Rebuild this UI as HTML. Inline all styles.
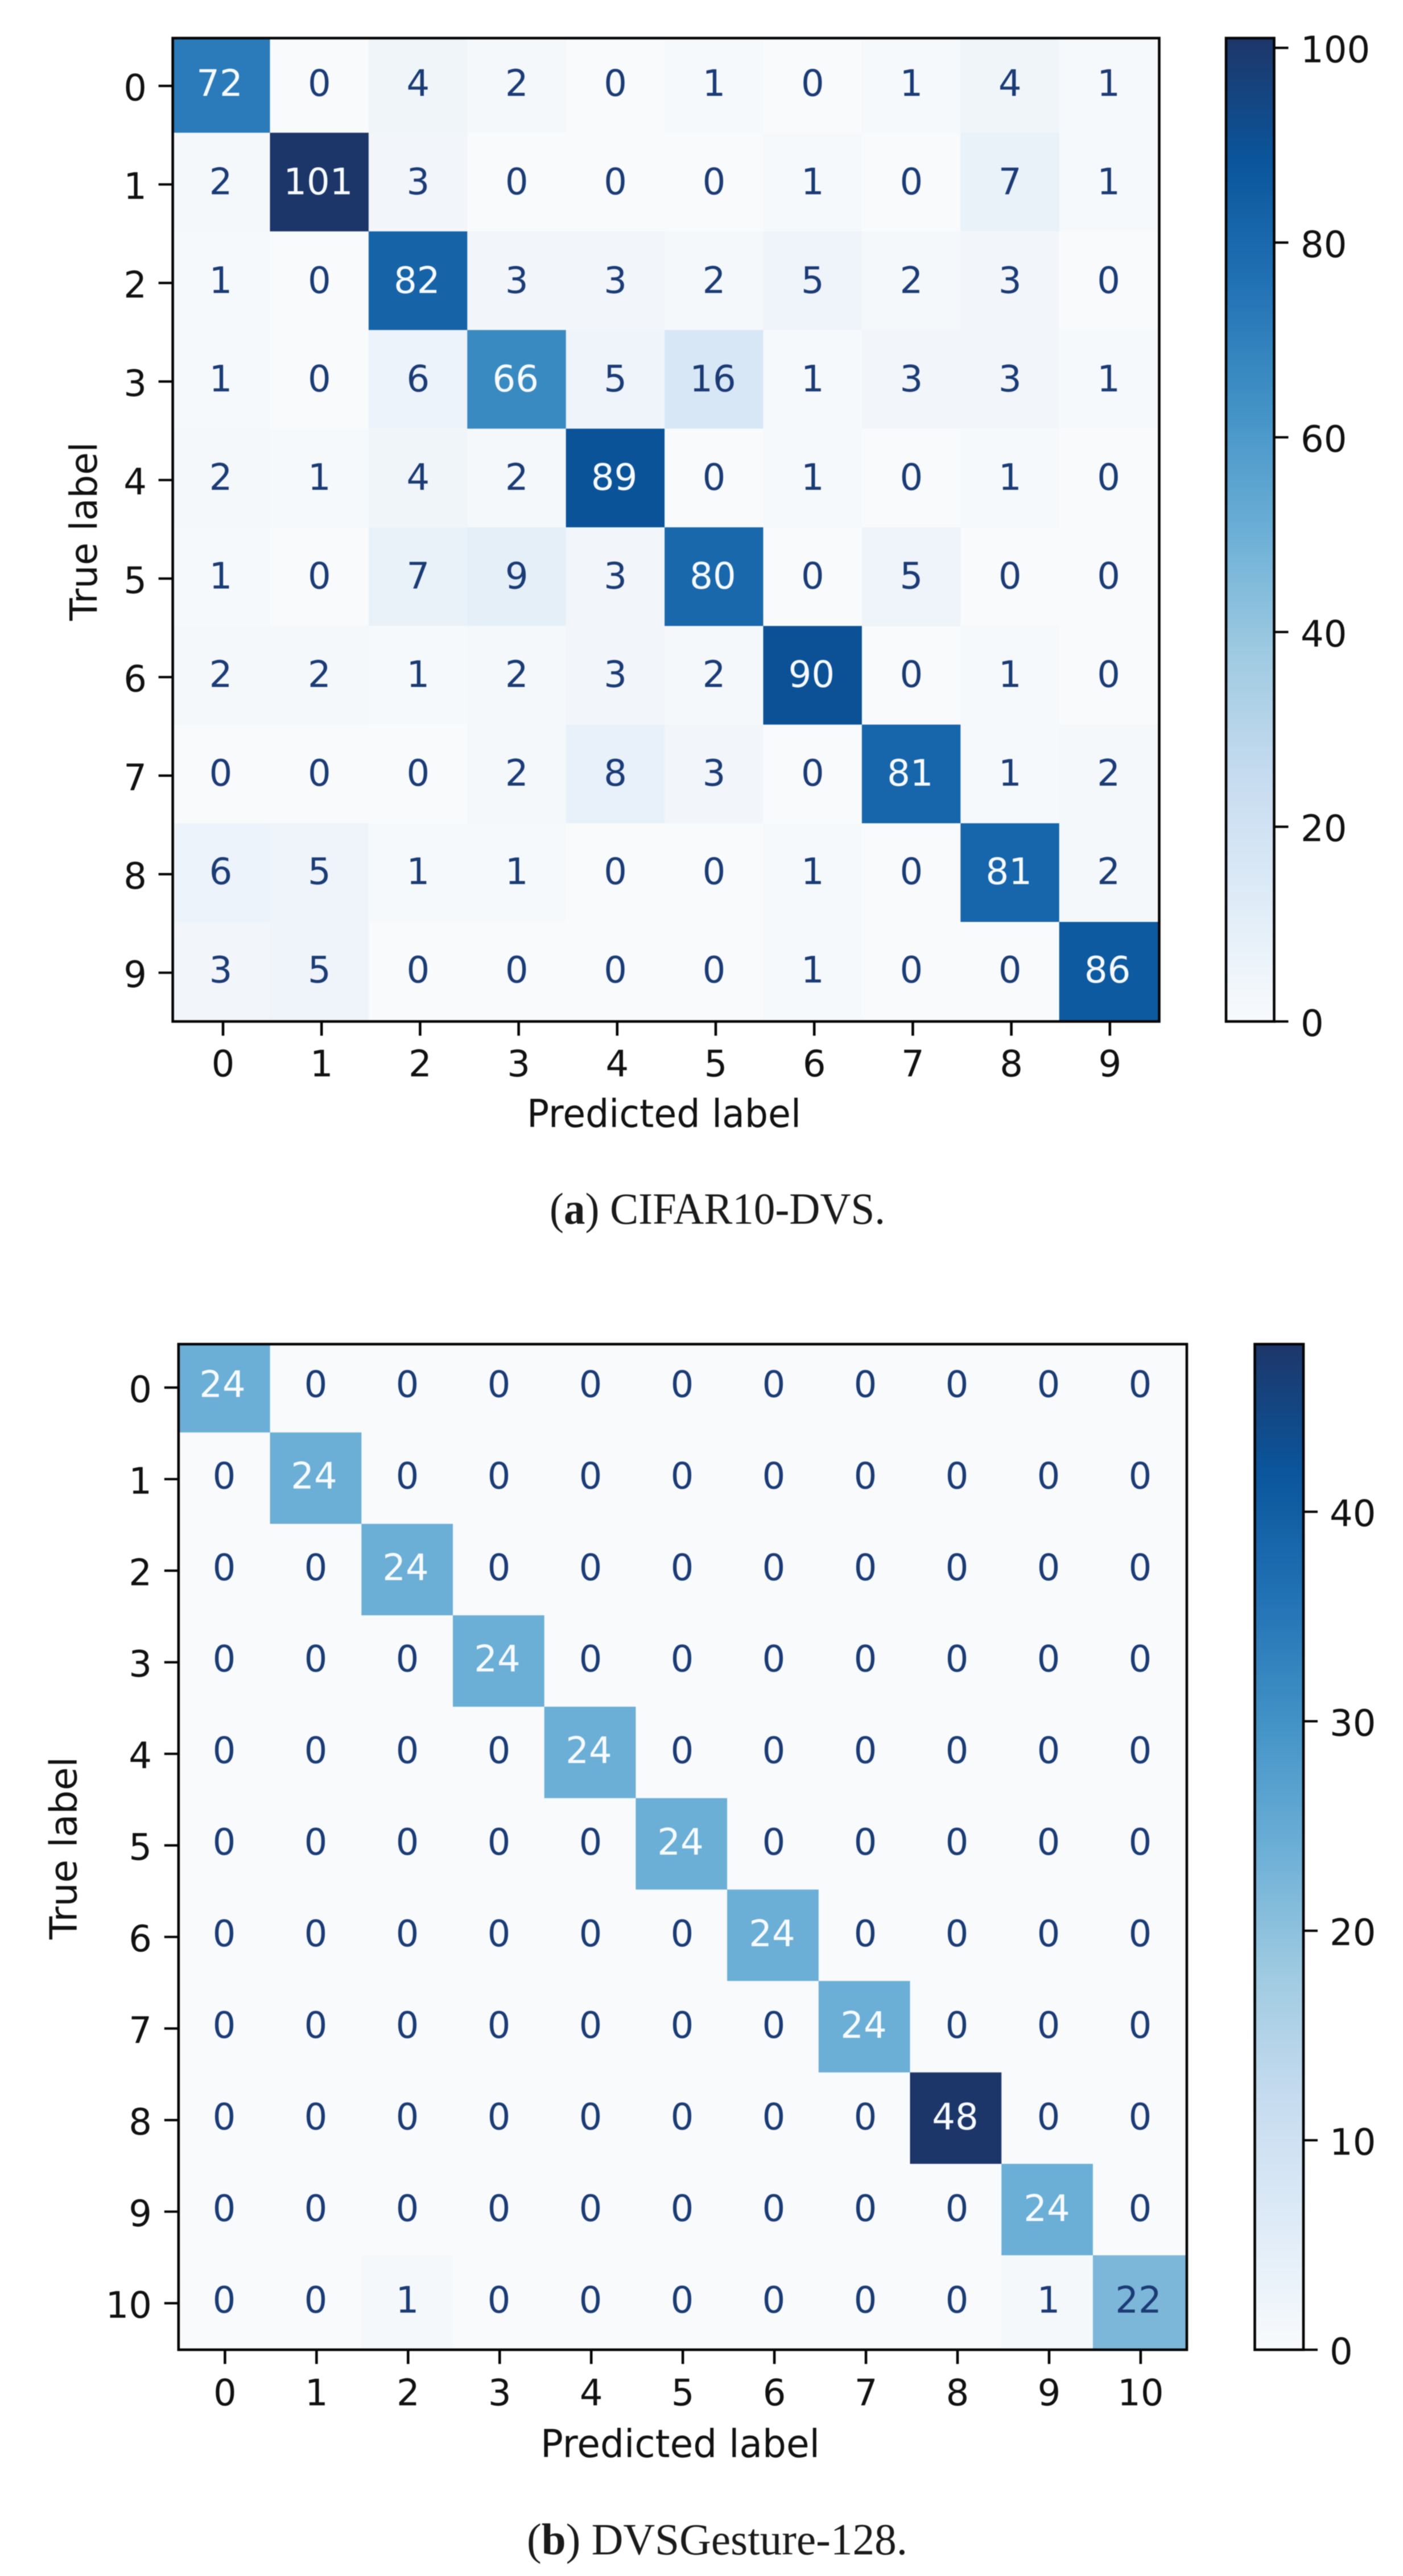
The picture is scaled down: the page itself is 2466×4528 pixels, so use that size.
<!DOCTYPE html>
<html lang="en">
<head>
<meta charset="utf-8">
<title>Confusion matrices</title>
<style>
html,body{margin:0;padding:0;background:#fff;width:2466px;height:4528px;overflow:hidden}
svg{display:block;filter:blur(0.9px)}
text{font-family:"DejaVu Sans","Liberation Sans",sans-serif}
.cap{font-family:"Liberation Serif",serif;fill:#1a1a1a;font-size:78px}
</style>
</head>
<body>
<svg id="figure" xmlns="http://www.w3.org/2000/svg" width="2466" height="4528" viewBox="0 0 2466 4528">
  <defs>
    <linearGradient id="blues-gradient" x1="0" y1="1" x2="0" y2="0"></linearGradient>
  </defs>
  <rect x="0" y="0" width="2466" height="4528" fill="#ffffff"/>
  <g id="chart-a"></g>
  <g id="chart-b"></g>
  <text class="cap" x="966" y="2151" textLength="590" lengthAdjust="spacingAndGlyphs">(<tspan font-weight="bold">a</tspan>) CIFAR10-DVS.</text>
  <text class="cap" x="926" y="4490" textLength="669" lengthAdjust="spacingAndGlyphs">(<tspan font-weight="bold">b</tspan>) DVSGesture-128.</text>
</svg>
<script>
const cifarMatrix = [
  [72, 0, 4, 2, 0, 1, 0, 1, 4, 1],
  [2, 101, 3, 0, 0, 0, 1, 0, 7, 1],
  [1, 0, 82, 3, 3, 2, 5, 2, 3, 0],
  [1, 0, 6, 66, 5, 16, 1, 3, 3, 1],
  [2, 1, 4, 2, 89, 0, 1, 0, 1, 0],
  [1, 0, 7, 9, 3, 80, 0, 5, 0, 0],
  [2, 2, 1, 2, 3, 2, 90, 0, 1, 0],
  [0, 0, 0, 2, 8, 3, 0, 81, 1, 2],
  [6, 5, 1, 1, 0, 0, 1, 0, 81, 2],
  [3, 5, 0, 0, 0, 0, 1, 0, 0, 86]
];
const gestureMatrix = [
  [24, 0, 0, 0, 0, 0, 0, 0, 0, 0, 0],
  [0, 24, 0, 0, 0, 0, 0, 0, 0, 0, 0],
  [0, 0, 24, 0, 0, 0, 0, 0, 0, 0, 0],
  [0, 0, 0, 24, 0, 0, 0, 0, 0, 0, 0],
  [0, 0, 0, 0, 24, 0, 0, 0, 0, 0, 0],
  [0, 0, 0, 0, 0, 24, 0, 0, 0, 0, 0],
  [0, 0, 0, 0, 0, 0, 24, 0, 0, 0, 0],
  [0, 0, 0, 0, 0, 0, 0, 24, 0, 0, 0],
  [0, 0, 0, 0, 0, 0, 0, 0, 48, 0, 0],
  [0, 0, 0, 0, 0, 0, 0, 0, 0, 24, 0],
  [0, 0, 1, 0, 0, 0, 0, 0, 0, 1, 22]
];
const cifarClassLabels = ['0', '1', '2', '3', '4', '5', '6', '7', '8', '9'];
const gestureClassLabels = ['0', '1', '2', '3', '4', '5', '6', '7', '8', '9', '10'];
const cifarColorbarTicks = [0, 20, 40, 60, 80, 100];
const gestureColorbarTicks = [0, 10, 20, 30, 40];
const bluesColors = ['#f8fafc', '#deebf7', '#c6dbef', '#9ecae1', '#6baed6', '#4292c6', '#2171b5', '#0a559b', '#1d3669'];

const SVG_NS = 'http://www.w3.org/2000/svg';

function make(tag, parent, attrs, content) {
  const el = document.createElementNS(SVG_NS, tag);
  for (const k in attrs) el.setAttribute(k, attrs[k]);
  if (content !== undefined) el.textContent = content;
  parent.appendChild(el);
  return el;
}

function blues(t) {
  const f = Math.max(0, Math.min(1, t)) * (bluesColors.length - 1);
  const i = Math.min(bluesColors.length - 2, Math.floor(f));
  const a = bluesColors[i], b = bluesColors[i + 1], u = f - i;
  let out = 'rgb(';
  for (let k = 0; k < 3; k++) {
    const p = parseInt(a.substr(1 + 2 * k, 2), 16);
    const q = parseInt(b.substr(1 + 2 * k, 2), 16);
    out += Math.round(p + (q - p) * u) + (k < 2 ? ',' : ')');
  }
  return out;
}

const gradient = document.getElementById('blues-gradient');
bluesColors.forEach(function (color, i) {
  make('stop', gradient, { offset: i / (bluesColors.length - 1), 'stop-color': color });
});

const SPINE = '#050505';
const FONT = 64;

function drawChart(root, matrix, labels, cbarTicks, g) {
  const n = matrix.length;
  const vmax = Math.max.apply(null, matrix.map(function (row) { return Math.max.apply(null, row); }));

  const xEdge = function (i) { return i === 0 ? g.left : i === n ? g.right : g.cellX0 + g.cellStep * i; };
  const yEdge = function (i) { return i === 0 ? g.top : i === n ? g.bottom : g.cellY0 + g.cellStep * i; };
  const xTick = function (i) { return g.tickX0 + g.tickStep * i; };
  const yTick = function (i) { return g.tickY0 + g.tickStep * i; };
  const xText = function (i, value) { return g.textX0 + g.textStep * i + (value >= 10 ? g.multiDigitShift : 0); };
  const yText = function (i) { return g.textY0 + g.tickStep * i; };
  const yBar = function (v) { return g.bottom - (g.bottom - g.top) * v / vmax; };

  matrix.forEach(function (row, r) {
    row.forEach(function (value, c) {
      const cell = make('rect', root, {
        x: xEdge(c), y: yEdge(r),
        width: xEdge(c + 1) - xEdge(c) + 0.3,
        height: yEdge(r + 1) - yEdge(r) + 0.3,
        fill: blues(value / vmax)
      });
      
      
    });
  });

  matrix.forEach(function (row, r) {
    row.forEach(function (value, c) {
      const label = make('text', root, {
        x: xText(c, value), y: yText(r) + FONT * 0.365, 'font-size': FONT, 'text-anchor': 'middle',
        fill: value >= vmax / 2 ? '#f7fbff' : '#1b3b75'
      }, String(value));
      
      
    });
  });

  labels.forEach(function (name, i) {
    const xt = make('line', root, { x1: xTick(i), x2: xTick(i), y1: g.bottom, y2: g.bottom + 25, stroke: SPINE, 'stroke-width': 4.6 });
    
    
    const xl = make('text', root, { x: xTick(i), y: g.xLabelBase, 'font-size': FONT, 'text-anchor': 'middle', fill: '#111' }, name);
    
    
    const yt = make('line', root, { x1: g.left - 25, x2: g.left, y1: yTick(i), y2: yTick(i), stroke: SPINE, 'stroke-width': 4.2 });
    
    
    const yl = make('text', root, { x: g.yLabelX, y: yTick(i) + 2 + FONT * 0.365, 'font-size': FONT, 'text-anchor': 'end', fill: '#111' }, name);
    
    
  });

  const frame = make('rect', root, {
    x: g.left, y: g.top, width: g.right - g.left, height: g.bottom - g.top,
    fill: 'none', stroke: SPINE, 'stroke-width': 4.6
  });
  
  

  const xTitle = make('text', root, {
    x: g.xTitleX, y: g.xTitleBase, 'font-size': 68, fill: '#111',
    textLength: g.xTitleLen, lengthAdjust: 'spacingAndGlyphs'
  }, 'Predicted label');
  
  

  const yTitle = make('text', root, {
    x: 0, y: 0, 'font-size': 66, fill: '#111',
    textLength: g.yTitleLen, lengthAdjust: 'spacingAndGlyphs',
    transform: 'translate(' + g.yTitleBase + ',' + g.yTitleStart + ') rotate(-90)'
  }, 'True label');
  
  

  const bar = make('rect', root, {
    x: g.barLeft, y: g.top, width: g.barRight - g.barLeft, height: g.bottom - g.top,
    fill: 'url(#blues-gradient)', stroke: SPINE, 'stroke-width': 4.6
  });
  
  

  cbarTicks.forEach(function (v) {
    const t = make('line', root, { x1: g.barRight, x2: g.barRight + 25, y1: yBar(v), y2: yBar(v), stroke: SPINE, 'stroke-width': 4.2 });
    
    
    const l = make('text', root, { x: g.barLabelX, y: yBar(v) + 2 + FONT * 0.365, 'font-size': FONT, fill: '#111' }, String(v));
    
    
  });
}

drawChart(document.getElementById('chart-a'), cifarMatrix, cifarClassLabels, cifarColorbarTicks, {
  left: 303.6, right: 2037.5, top: 67, bottom: 1795.5,
  cellX0: 301.1, cellY0: 59.9, cellStep: 173.4,
  tickX0: 392, tickY0: 151, tickStep: 173.2,
  textX0: 388, textY0: 145, textStep: 173.4, multiDigitShift: -2,
  xLabelBase: 1892, yLabelX: 258,
  xTitleX: 926, xTitleBase: 1981, xTitleLen: 482,
  yTitleBase: 170, yTitleStart: 1091, yTitleLen: 314,
  barLeft: 2155, barRight: 2239.5, barLabelX: 2286
});

drawChart(document.getElementById('chart-b'), gestureMatrix, gestureClassLabels, gestureColorbarTicks, {
  left: 313.8, right: 2086, top: 2362.7, bottom: 4130.3,
  cellX0: 313.9, cellY0: 2357.2, cellStep: 160.7,
  tickX0: 395.4, tickY0: 2439, tickStep: 160.95,
  textX0: 394, textY0: 2432, textStep: 161, multiDigitShift: -3,
  xLabelBase: 4228, yLabelX: 267,
  xTitleX: 950, xTitleBase: 4319, xTitleLen: 491,
  yTitleBase: 134.5, yTitleStart: 3409, yTitleLen: 321,
  barLeft: 2205.5, barRight: 2291, barLabelX: 2337
});
</script>
</body>
</html>
